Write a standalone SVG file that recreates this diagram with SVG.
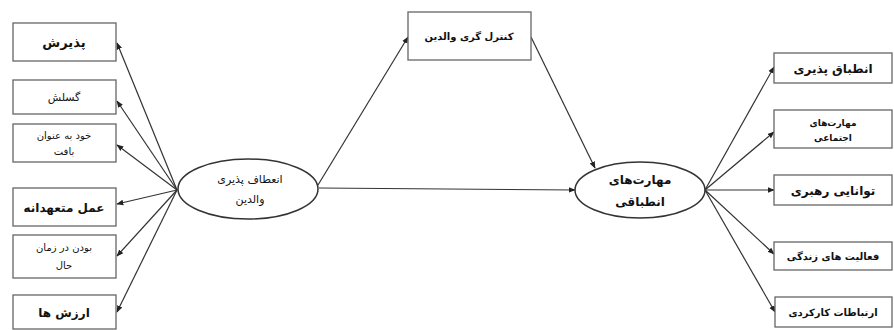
<svg xmlns="http://www.w3.org/2000/svg" width="894" height="330" viewBox="0 0 894 330">
<defs>
<marker id="ah" viewBox="0 0 10 10" refX="9" refY="5" markerWidth="7" markerHeight="7" orient="auto" markerUnits="userSpaceOnUse">
<path d="M0,1 L10,5 L0,9 z" fill="#222"/>
</marker>
<style>
.box{fill:#fff;stroke:#666;stroke-width:1.3}
.ell{fill:#fff;stroke:#333;stroke-width:1.5}
.t{font-family:"DejaVu Sans",sans-serif;fill:#111;text-anchor:middle;direction:rtl}
.b{font-weight:bold}
.c{stroke:#333;stroke-width:1.2;fill:none;marker-end:url(#ah)}
</style>
</defs>
<rect width="894" height="330" fill="#fff"/>
<g id="connectors">
<line class="c" x1="177" y1="190" x2="117" y2="43"/>
<line class="c" x1="177" y1="190" x2="117" y2="101"/>
<line class="c" x1="177" y1="190" x2="117" y2="145"/>
<line class="c" x1="177" y1="190" x2="117" y2="204"/>
<line class="c" x1="177" y1="190" x2="117" y2="256"/>
<line class="c" x1="177" y1="190" x2="117" y2="312"/>
<line class="c" x1="318" y1="185" x2="408" y2="37"/>
<line class="c" x1="531" y1="37" x2="595" y2="168"/>
<line class="c" x1="319" y1="188" x2="575" y2="190"/>
<line class="c" x1="705" y1="190" x2="774" y2="67"/>
<line class="c" x1="705" y1="190" x2="774" y2="132"/>
<line class="c" x1="705" y1="190" x2="774" y2="190"/>
<line class="c" x1="705" y1="190" x2="774" y2="254"/>
<line class="c" x1="705" y1="190" x2="775" y2="312"/>
</g>
<g id="n-acceptance"><rect class="box" x="13" y="23" width="103" height="38"/><text class="t b" x="64" y="47" font-size="13">پذیرش</text></g>
<g id="n-defusion"><rect class="box" x="13" y="80" width="103" height="34"/><text class="t" x="64" y="101" font-size="11">گسلش</text></g>
<g id="n-self"><rect class="box" x="13" y="124" width="103" height="38"/><text class="t" x="64" y="139" font-size="10">خود به عنوان</text><text class="t" x="64" y="155" font-size="10">بافت</text></g>
<g id="n-commit"><rect class="box" x="13" y="188" width="103" height="38"/><text class="t b" x="64" y="212" font-size="12">عمل متعهدانه</text></g>
<g id="n-present"><rect class="box" x="13" y="235" width="103" height="43"/><text class="t" x="64" y="251" font-size="10">بودن در زمان</text><text class="t" x="64" y="269" font-size="10">حال</text></g>
<g id="n-values"><rect class="box" x="13" y="295" width="103" height="34"/><text class="t b" x="64" y="317" font-size="12">ارزش ها</text></g>
<g id="n-flex"><ellipse class="ell" cx="248" cy="189" rx="70" ry="30"/><text class="t" x="250" y="183" font-size="11">انعطاف پذیری</text><text class="t" x="250" y="203" font-size="11">والدین</text></g>
<g id="n-control"><rect class="box" x="408" y="12" width="123" height="48"/><text class="t b" x="469" y="40" font-size="10">کنترل گری والدین</text></g>
<g id="n-adaptive"><ellipse class="ell" cx="640" cy="190" rx="65" ry="28"/><text class="t b" x="640" y="184" font-size="12">مهارت‌های</text><text class="t b" x="640" y="206" font-size="12">انطباقی</text></g>
<g id="n-adapt"><rect class="box" x="774" y="53" width="118" height="30"/><text class="t b" x="833" y="73" font-size="12">انطباق پذیری</text></g>
<g id="n-social"><rect class="box" x="774" y="110" width="118" height="38"/><text class="t b" x="833" y="126" font-size="9">مهارت‌های</text><text class="t b" x="833" y="141" font-size="9">اجتماعی</text></g>
<g id="n-lead"><rect class="box" x="774" y="175" width="118" height="30"/><text class="t b" x="833" y="195" font-size="12">توانایی رهبری</text></g>
<g id="n-daily"><rect class="box" x="774" y="242" width="118" height="28"/><text class="t b" x="833" y="260" font-size="10">فعالیت های زندگی</text></g>
<g id="n-comm"><rect class="box" x="775" y="297" width="117" height="30"/><text class="t b" x="833" y="316" font-size="10">ارتباطات کارکردی</text></g>
</svg>
